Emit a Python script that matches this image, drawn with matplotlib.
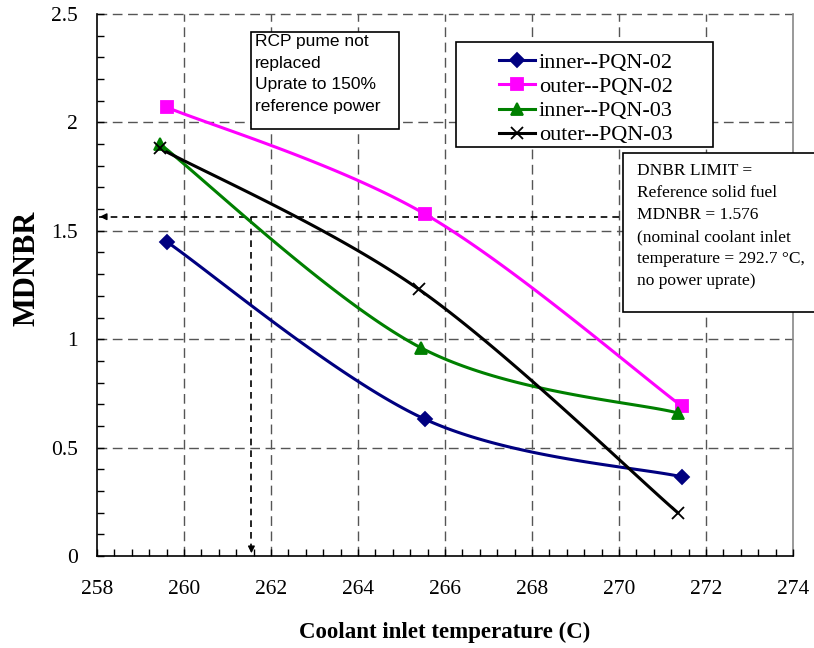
import numpy as np
import matplotlib
matplotlib.use("Agg")
import matplotlib.pyplot as plt
from matplotlib.patches import Rectangle
from matplotlib.lines import Line2D

# ---- data ----
labels = ["inner--PQN-02", "outer--PQN-02", "inner--PQN-03", "outer--PQN-03"]
x_in02 = [259.6, 265.55, 271.45]
y_in02 = [1.45, 0.63, 0.365]
x_out02 = [259.6, 265.55, 271.45]
y_out02 = [2.07, 1.576, 0.69]
x_in03 = [259.45, 265.45, 271.35]
y_in03 = [1.90, 0.96, 0.66]
x_out03 = [259.45, 265.4, 271.35]
y_out03 = [1.88, 1.23, 0.20]
colors = ["#000080", "#FF00FF", "#008000", "#000000"]
markers = ["D", "s", "^", "x"]
ref_y = 1.565
ref_x = 261.55
xticks = [258, 260, 262, 264, 266, 268, 270, 272, 274]
yticks = [0, 0.5, 1, 1.5, 2, 2.5]
ytick_labels = ["0", "0.5", "1", "1.5", "2", "2.5"]

W, H = 814, 648
fig = plt.figure(figsize=(W / 100, H / 100), dpi=100)
serif = ["Liberation Serif", "DejaVu Serif"]
sans = ["Liberation Sans", "DejaVu Sans"]

def fx(px):
    return px / W

def fy(py):
    return 1 - py / H

ax = fig.add_axes([fx(97), fy(556), fx(793) - fx(97), fy(14) - fy(556)])
ax.set_xlim(258, 274)
ax.set_ylim(0, 2.5)


def excel_smooth(xs, ys, n=60):
    pts = np.column_stack([xs, ys]).astype(float)
    m = len(pts)
    out = [pts[0]]
    for i in range(m - 1):
        p0 = pts[i]
        p3 = pts[i + 1]
        pm1 = pts[i - 1] if i > 0 else pts[i]
        pp2 = pts[i + 2] if i + 2 < m else pts[i + 1]
        c1 = p0 + (p3 - pm1) / 6.0
        c2 = p3 - (pp2 - p0) / 6.0
        t = np.linspace(0, 1, n)[1:, None]
        seg = ((1 - t) ** 3) * p0 + 3 * ((1 - t) ** 2) * t * c1 + 3 * (1 - t) * t ** 2 * c2 + t ** 3 * p3
        out.extend(seg)
    out = np.array(out)
    return out[:, 0], out[:, 1]

# grid
grid_kw = dict(color="#555555", lw=1.0, linestyle=(0, (7, 4)), zorder=1)
for gy in [0.5, 1.0, 1.5, 2.0, 2.5]:
    ax.axhline(gy, clip_on=False, **grid_kw)
for gx in [260, 262, 264, 266, 268, 270, 272]:
    ax.axvline(gx, **grid_kw)
ax.axvline(274, color="#888888", lw=1.2, clip_on=False, zorder=1)

# reference lines
ax.plot([258.05, 270.2], [ref_y, ref_y], color="black", lw=1.2, linestyle=(0, (4, 3)), zorder=2)
ax.plot([ref_x, ref_x], [ref_y, 0.03], color="black", lw=1.2, linestyle=(0, (4, 3)), zorder=2)
ax.annotate("", xy=(258.0, ref_y), xytext=(258.25, ref_y),
            arrowprops=dict(arrowstyle="-|>", color="black", lw=1.0, mutation_scale=10), zorder=3)
ax.annotate("", xy=(ref_x, 0.0), xytext=(ref_x, 0.05),
            arrowprops=dict(arrowstyle="-|>", color="black", lw=1.0, mutation_scale=10), zorder=3)

series = [(x_in02, y_in02), (x_out02, y_out02), (x_in03, y_in03), (x_out03, y_out03)]
ms = {"D": 7, "s": 8, "^": 9, "x": 9}
handles = []
for (xs, ys), c, mk, lab in zip(series, colors, markers, labels):
    sx, sy = excel_smooth(xs, ys)
    ax.plot(sx, sy, color=c, lw=2.2, zorder=4)
    ax.plot(xs, ys, linestyle="none", marker=mk, color=c, ms=ms[mk], mew=1.3, zorder=5)
    handles.append(Line2D([], [], color=c, lw=2.2, marker=mk, ms=ms[mk], mew=1.3))

# spines & ticks
for s in ["top", "right"]:
    ax.spines[s].set_visible(False)
ax.spines["left"].set_linewidth(1.2)
ax.spines["bottom"].set_linewidth(1.2)
ax.set_xticks(xticks)
ax.set_xticks(np.arange(258, 274.01, 0.4), minor=True)
ax.set_yticks(yticks)
ax.set_yticklabels(ytick_labels)
ax.set_yticks(np.arange(0, 2.501, 0.1), minor=True)
ax.tick_params(axis="both", which="both", direction="in", length=5, width=1, color="black")
ax.tick_params(axis="x", which="major", pad=17)
ax.tick_params(axis="y", which="major", pad=14)
for lab in ax.get_xticklabels() + ax.get_yticklabels():
    lab.set_fontfamily(serif)
    lab.set_fontsize(15.5)

fig.text(fx(445), fy(632), "Coolant inlet temperature (C)", ha="center", va="center",
         fontfamily=serif, fontsize=16.5, fontweight="bold")
fig.text(fx(27), fy(268), "MDNBR", ha="center", va="center", rotation=90,
         fontfamily=serif, fontsize=22, fontweight="bold")

# legend box
fig.patches.append(Rectangle((fx(456), fy(147)), fx(713) - fx(456), fy(42) - fy(147),
                             transform=fig.transFigure, facecolor="white", edgecolor="black",
                             lw=1.2, zorder=10))
leg = fig.legend(handles, labels, loc="center", bbox_to_anchor=(fx(586), fy(99)),
                 bbox_transform=fig.transFigure, frameon=False,
                 prop={"family": serif, "size": 16}, handlelength=1.6, handletextpad=0.2,
                 labelspacing=0.16, borderpad=0)
leg.set_zorder(11)

# RCP box
fig.patches.append(Rectangle((fx(251), fy(129)), fx(399) - fx(251), fy(32) - fy(129),
                             transform=fig.transFigure, facecolor="white", edgecolor="black",
                             lw=1.2, zorder=10))
fig.text(fx(255), fy(34), "RCP pume not\nreplaced\nUprate to 150%\nreference power",
         ha="left", va="top", fontfamily=sans, fontsize=12.5, linespacing=1.55, zorder=11)

# DNBR box (extends past right edge)
fig.patches.append(Rectangle((fx(623), fy(312)), fx(830) - fx(623), fy(153) - fy(312),
                             transform=fig.transFigure, facecolor="white", edgecolor="black",
                             lw=1.2, zorder=10, clip_on=False))
fig.text(fx(637), fy(163), "DNBR LIMIT =\nReference solid fuel\nMDNBR = 1.576\n(nominal coolant inlet\ntemperature = 292.7 \u00b0C,\nno power uprate)",
         ha="left", va="top", fontfamily=serif, fontsize=12.5, linespacing=1.5, zorder=11)

fig.savefig("out.png", dpi=100)
